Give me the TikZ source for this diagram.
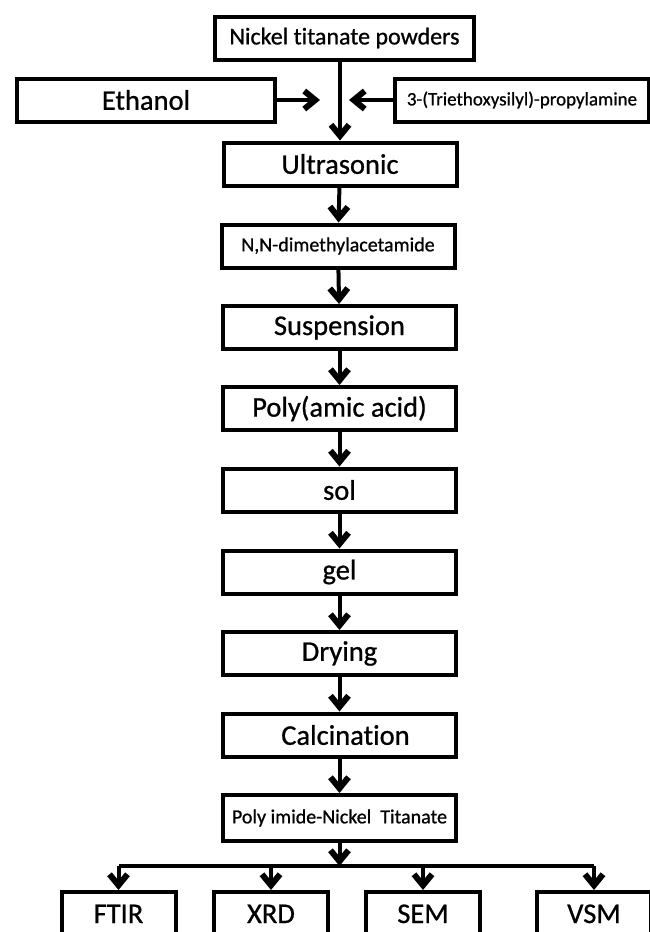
\documentclass[tikz,border=0pt]{standalone}
\usepackage{fontspec}
\setmainfont{Carlito}[FakeBold=0.8,Ligatures=NoCommon]
\usetikzlibrary{arrows.meta}
\tikzset{
	stepbox/.style={draw, line width=4pt, minimum width=233pt, minimum height=43pt, inner sep=0pt},
	testbox/.style={draw, line width=4pt, minimum width=114pt, inner xsep=0pt, inner ysep=0pt, text height=31pt, text depth=40pt, anchor=base},
	flowarrow/.style={line width=4pt, -{Straight Barb[length=11pt,width=18pt,line width=6pt]}},
}
\begin{document}
\begin{tikzpicture}[x=1pt,y=-1pt]
		\newcommand{\myfontbox}[1]{
			\fontsize{28.5}{30}\selectfont{#1}
		}\newcommand{\myfonttop}[1]{
			\fontsize{24}{26}\selectfont{#1}
		}\newcommand{\myfontsmall}[1]{
			\fontsize{20}{22}\selectfont{#1}
		}%Picture frame
		\useasboundingbox (0,0) rectangle (650,932);
		\clip (0,0) rectangle (650,932);
		%Starting materials
		\coordinate (top) at (344.5,38);
		\coordinate (left) at (146,100);
		\coordinate (right) at (522,100);
		\node [stepbox, minimum width=259pt] (powder) at (top) {\myfonttop{Nickel titanate powders}};
		\node [stepbox, minimum width=258pt] (ethanol) at (left) {\myfontbox{Ethanol}};
		\node [stepbox, minimum width=254pt] (silane) at (right) {\fontsize{19}{21}\selectfont 3-(Triethoxysilyl)-propylamine};
		%Mixing point
		\coordinate (mixL) at (320,100);
		\coordinate (mixR) at (349,100);
		%Main column
		\coordinate (c1) at (340,164);
		\coordinate (c2) at (338,246);
		\coordinate (c3) at (339.5,327.5);
		\coordinate (c4) at (339.5,408.5);
		\coordinate (c5) at (339.5,490);
		\coordinate (c6) at (339.5,572);
		\coordinate (c7) at (339.5,653.5);
		\coordinate (c8) at (339.5,735);
		\coordinate (c9) at (339.5,818);
		\node [stepbox] (ultra) at (c1) {\myfontbox{Ultrasonic}};
		\node [stepbox] (dmac) at (c2) {\myfontsmall{N,N-dimethylacetamide}};
		\node [stepbox] (susp) at (c3) {\myfontbox{Suspension}};
		\node [stepbox] (paa) at (c4) {\myfontbox{Poly(amic acid)}};
		\node [stepbox] (sol) at (c5) {\myfontbox{sol}};
		\node [stepbox] (gel) at (c6) {\myfontbox{gel}};
		\node [stepbox] (dry) at (c7) {\myfontbox{Drying}};
		\node [stepbox] (calc) at (c8) {\myfontbox{\hspace{12pt}Calcination}};
		\node [stepbox, minimum height=46pt] (pint) at (c9) {\myfontsmall{Poly imide-Nickel\ \ Titanate}};
		%Tests at the bottom
		\coordinate (t1) at (118.5,923);
		\coordinate (t2) at (271,923);
		\coordinate (t3) at (423,923);
		\coordinate (t4) at (594,923);
		\node [testbox] (ftir) at (t1) {\myfontbox{FTIR}};
		\node [testbox] (xrd) at (t2) {\myfontbox{XRD}};
		\node [testbox] (sem) at (t3) {\myfontbox{SEM}};
		\node [testbox] (vsm) at (t4) {\myfontbox{VSM}};
		%Arrows of the main column
		\draw [flowarrow] (ultra.north |- powder.south) -- (ultra.north);
		\draw [flowarrow] (ethanol.east) -- (mixL);
		\draw [flowarrow] (silane.west) -- (mixR);
		\draw [flowarrow] (ultra) -- (dmac);
		\draw [flowarrow] (dmac) -- (susp);
		\draw [flowarrow] (susp) -- (paa);
		\draw [flowarrow] (paa) -- (sol);
		\draw [flowarrow] (sol) -- (gel);
		\draw [flowarrow] (gel) -- (dry);
		\draw [flowarrow] (dry) -- (calc);
		\draw [flowarrow] (calc) -- (pint);
		%Branching to the tests
		\coordinate (bus) at (339.5,866);
		\draw [flowarrow] (pint) -- (bus);
		\draw [line width=4pt] (ftir.north |- bus) -- (vsm.north |- bus);
		\draw [flowarrow] (ftir.north |- bus) -- (ftir.north);
		\draw [flowarrow] (xrd.north |- bus) -- (xrd.north);
		\draw [flowarrow] (sem.north |- bus) -- (sem.north);
		\draw [flowarrow] (vsm.north |- bus) -- (vsm.north);
		\end{tikzpicture}
\end{document}
